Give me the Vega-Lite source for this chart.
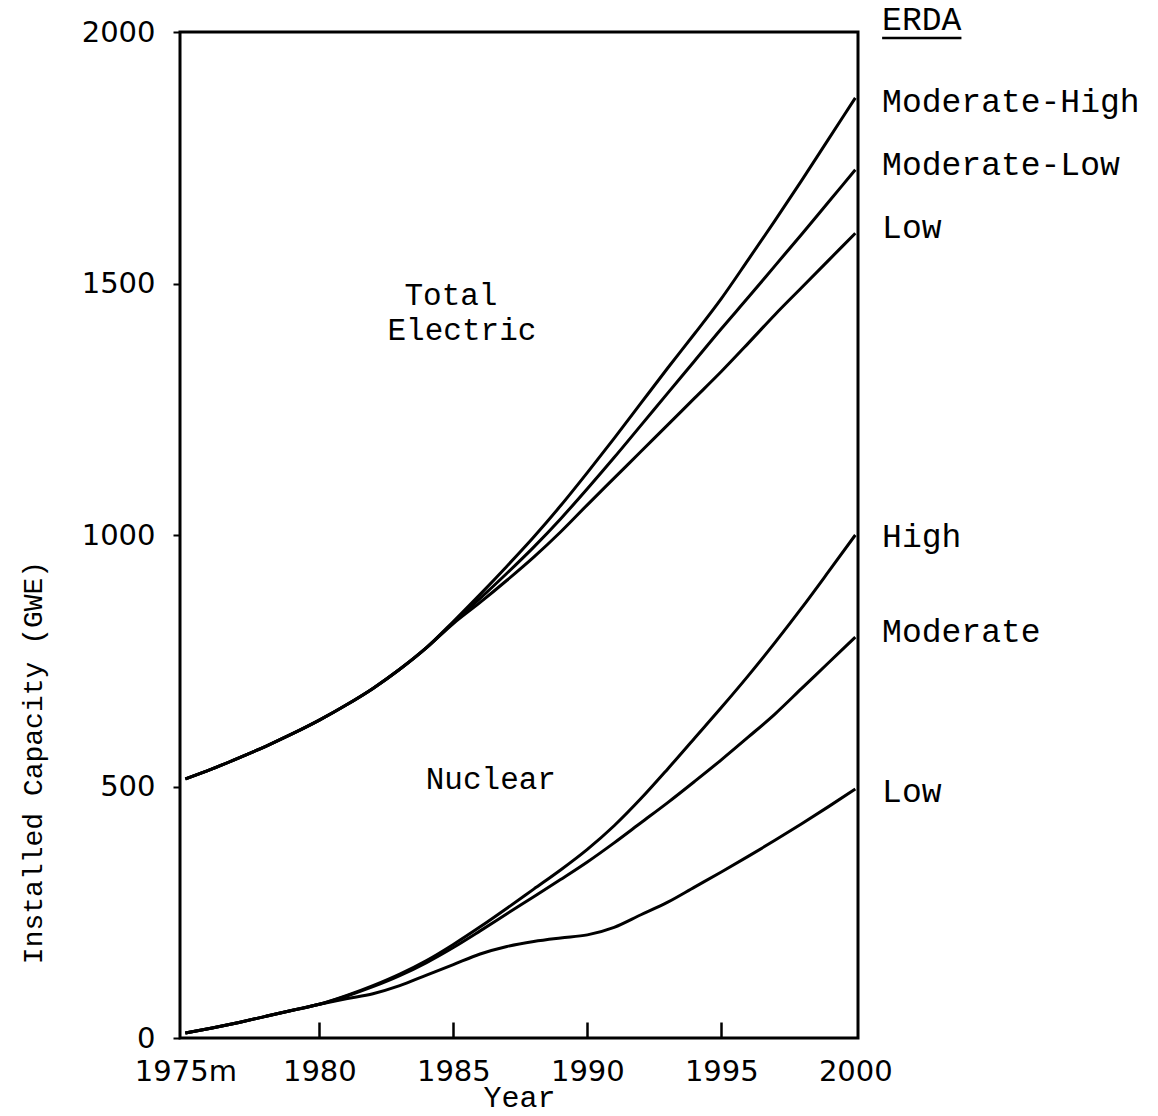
{
  "$schema": "https://vega.github.io/schema/vega-lite/v6.json",
  "width": 678,
  "height": 1006,
  "autosize": {"type": "none"},
  "padding": {"left": 180, "top": 32, "right": 300, "bottom": 78},
  "background": "white",
  "config": {
    "view": {"stroke": "black", "strokeWidth": 3},
    "axis": {"grid": false, "domain": false, "tickColor": "black", "labelColor": "black", "titleColor": "black", "labelFlush": false, "labelOverlap": false, "labelBound": false}
  },
  "datasets": {
    "curves": [
      {"year": 1975, "TotalModHigh": 515, "TotalModLow": 515, "TotalLow": 515, "NucHigh": 10, "NucModerate": 10, "NucLow": 10},
      {"year": 1976, "TotalModHigh": 535, "TotalModLow": 535, "TotalLow": 535, "NucHigh": 20, "NucModerate": 20, "NucLow": 20},
      {"year": 1977, "TotalModHigh": 557, "TotalModLow": 557, "TotalLow": 557, "NucHigh": 31, "NucModerate": 31, "NucLow": 31},
      {"year": 1978, "TotalModHigh": 580, "TotalModLow": 580, "TotalLow": 580, "NucHigh": 43, "NucModerate": 43, "NucLow": 43},
      {"year": 1979, "TotalModHigh": 605, "TotalModLow": 605, "TotalLow": 605, "NucHigh": 55, "NucModerate": 55, "NucLow": 55},
      {"year": 1980, "TotalModHigh": 632, "TotalModLow": 632, "TotalLow": 632, "NucHigh": 67, "NucModerate": 67, "NucLow": 67},
      {"year": 1981, "TotalModHigh": 662, "TotalModLow": 662, "TotalLow": 662, "NucHigh": 84, "NucModerate": 83, "NucLow": 78},
      {"year": 1982, "TotalModHigh": 695, "TotalModLow": 695, "TotalLow": 695, "NucHigh": 104, "NucModerate": 102, "NucLow": 88},
      {"year": 1983, "TotalModHigh": 733, "TotalModLow": 733, "TotalLow": 733, "NucHigh": 127, "NucModerate": 124, "NucLow": 104},
      {"year": 1984, "TotalModHigh": 776, "TotalModLow": 776, "TotalLow": 776, "NucHigh": 154, "NucModerate": 150, "NucLow": 125},
      {"year": 1985, "TotalModHigh": 828, "TotalModLow": 826, "TotalLow": 824, "NucHigh": 186, "NucModerate": 180, "NucLow": 146},
      {"year": 1986, "TotalModHigh": 882, "TotalModLow": 874, "TotalLow": 866, "NucHigh": 221, "NucModerate": 213, "NucLow": 167},
      {"year": 1987, "TotalModHigh": 938, "TotalModLow": 924, "TotalLow": 910, "NucHigh": 258, "NucModerate": 247, "NucLow": 182},
      {"year": 1988, "TotalModHigh": 996, "TotalModLow": 976, "TotalLow": 956, "NucHigh": 296, "NucModerate": 281, "NucLow": 192},
      {"year": 1989, "TotalModHigh": 1058, "TotalModLow": 1032, "TotalLow": 1006, "NucHigh": 334, "NucModerate": 315, "NucLow": 199},
      {"year": 1990, "TotalModHigh": 1124, "TotalModLow": 1092, "TotalLow": 1060, "NucHigh": 375, "NucModerate": 350, "NucLow": 205},
      {"year": 1991, "TotalModHigh": 1192, "TotalModLow": 1154, "TotalLow": 1113, "NucHigh": 422, "NucModerate": 388, "NucLow": 220},
      {"year": 1992, "TotalModHigh": 1262, "TotalModLow": 1218, "TotalLow": 1166, "NucHigh": 476, "NucModerate": 428, "NucLow": 245},
      {"year": 1993, "TotalModHigh": 1332, "TotalModLow": 1282, "TotalLow": 1219, "NucHigh": 535, "NucModerate": 468, "NucLow": 270},
      {"year": 1994, "TotalModHigh": 1400, "TotalModLow": 1346, "TotalLow": 1272, "NucHigh": 596, "NucModerate": 510, "NucLow": 300},
      {"year": 1995, "TotalModHigh": 1470, "TotalModLow": 1410, "TotalLow": 1325, "NucHigh": 657, "NucModerate": 553, "NucLow": 330},
      {"year": 1996, "TotalModHigh": 1547, "TotalModLow": 1472, "TotalLow": 1381, "NucHigh": 720, "NucModerate": 598, "NucLow": 361},
      {"year": 1997, "TotalModHigh": 1625, "TotalModLow": 1535, "TotalLow": 1438, "NucHigh": 786, "NucModerate": 644, "NucLow": 393},
      {"year": 1998, "TotalModHigh": 1705, "TotalModLow": 1598, "TotalLow": 1492, "NucHigh": 855, "NucModerate": 695, "NucLow": 426},
      {"year": 1999, "TotalModHigh": 1787, "TotalModLow": 1662, "TotalLow": 1546, "NucHigh": 927, "NucModerate": 746, "NucLow": 460},
      {"year": 2000, "TotalModHigh": 1869, "TotalModLow": 1726, "TotalLow": 1600, "NucHigh": 1000, "NucModerate": 797, "NucLow": 495}
    ],
    "sideLabels": [
      {"year": 2001.0, "value": 2004, "text": "ERDA"},
      {"year": 2001.0, "value": 1841, "text": "Moderate-High"},
      {"year": 2001.0, "value": 1716, "text": "Moderate-Low"},
      {"year": 2001.0, "value": 1590, "text": "Low"},
      {"year": 2001.0, "value": 976, "text": "High"},
      {"year": 2001.0, "value": 787, "text": "Moderate"},
      {"year": 2001.0, "value": 469, "text": "Low"}
    ],
    "plotLabels": [
      {"year": 1984.91, "value": 1458, "text": "Total"},
      {"year": 1985.32, "value": 1388, "text": "Electric"},
      {"year": 1986.4, "value": 495, "text": "Nuclear"}
    ],
    "underline": [
      {"year": 2001.0, "year2": 2003.96, "value": 1988}
    ]
  },
  "layer": [
    {
      "data": {"name": "curves"},
      "transform": [{"fold": ["TotalModHigh", "TotalModLow", "TotalLow", "NucHigh", "NucModerate", "NucLow"], "as": ["series", "capacity"]}],
      "mark": {"type": "line", "color": "black", "strokeWidth": 3, "interpolate": "monotone"},
      "encoding": {
        "x": {
          "field": "year", "type": "quantitative",
          "scale": {"domain": [1974.8, 2000.1], "nice": false, "zero": false},
          "axis": {
            "values": [1975, 1980, 1985, 1990, 1995, 2000],
            "labelExpr": "datum.value == 1975 ? '1975m' : datum.label",
            "format": "d",
            "labelFont": "DejaVu Sans", "labelFontSize": 29,
            "tickSize": -16, "tickWidth": 2.5,
            "tickOpacity": {"condition": {"test": "datum.value == 1975 || datum.value == 2000", "value": 0}, "value": 1},
            "labelPadding": 35,
            "title": "Year",
            "titleFont": "Liberation Mono", "titleFontSize": 30, "titleFontWeight": "normal",
            "titleBaseline": "middle", "titleY": 59
          }
        },
        "y": {
          "field": "capacity", "type": "quantitative",
          "scale": {"domain": [0, 2000], "nice": false},
          "axis": {
            "values": [0, 500, 1000, 1500, 2000],
            "format": "d",
            "labelFont": "DejaVu Sans", "labelFontSize": 29,
            "tickSize": 7, "tickWidth": 2,
            "labelPadding": 18,
            "title": "Installed Capacity (GWE)",
            "titleFont": "Liberation Mono", "titleFontSize": 28, "titleFontWeight": "normal",
            "titleAngle": -90, "titleAlign": "center", "titleBaseline": "middle",
            "titleX": -147, "titleY": 730
          }
        },
        "detail": {"field": "series"}
      }
    },
    {
      "data": {"name": "sideLabels"},
      "mark": {"type": "text", "align": "left", "baseline": "alphabetic", "font": "Liberation Mono", "fontSize": 33, "color": "black"},
      "encoding": {
        "x": {"field": "year", "type": "quantitative"},
        "y": {"field": "value", "type": "quantitative"},
        "text": {"field": "text"}
      }
    },
    {
      "data": {"name": "plotLabels"},
      "mark": {"type": "text", "align": "center", "baseline": "alphabetic", "font": "Liberation Mono", "fontSize": 31, "color": "black"},
      "encoding": {
        "x": {"field": "year", "type": "quantitative"},
        "y": {"field": "value", "type": "quantitative"},
        "text": {"field": "text"}
      }
    },
    {
      "data": {"name": "underline"},
      "mark": {"type": "rule", "color": "black", "strokeWidth": 2.5},
      "encoding": {
        "x": {"field": "year", "type": "quantitative"},
        "x2": {"field": "year2"},
        "y": {"field": "value", "type": "quantitative"}
      }
    }
  ]
}
